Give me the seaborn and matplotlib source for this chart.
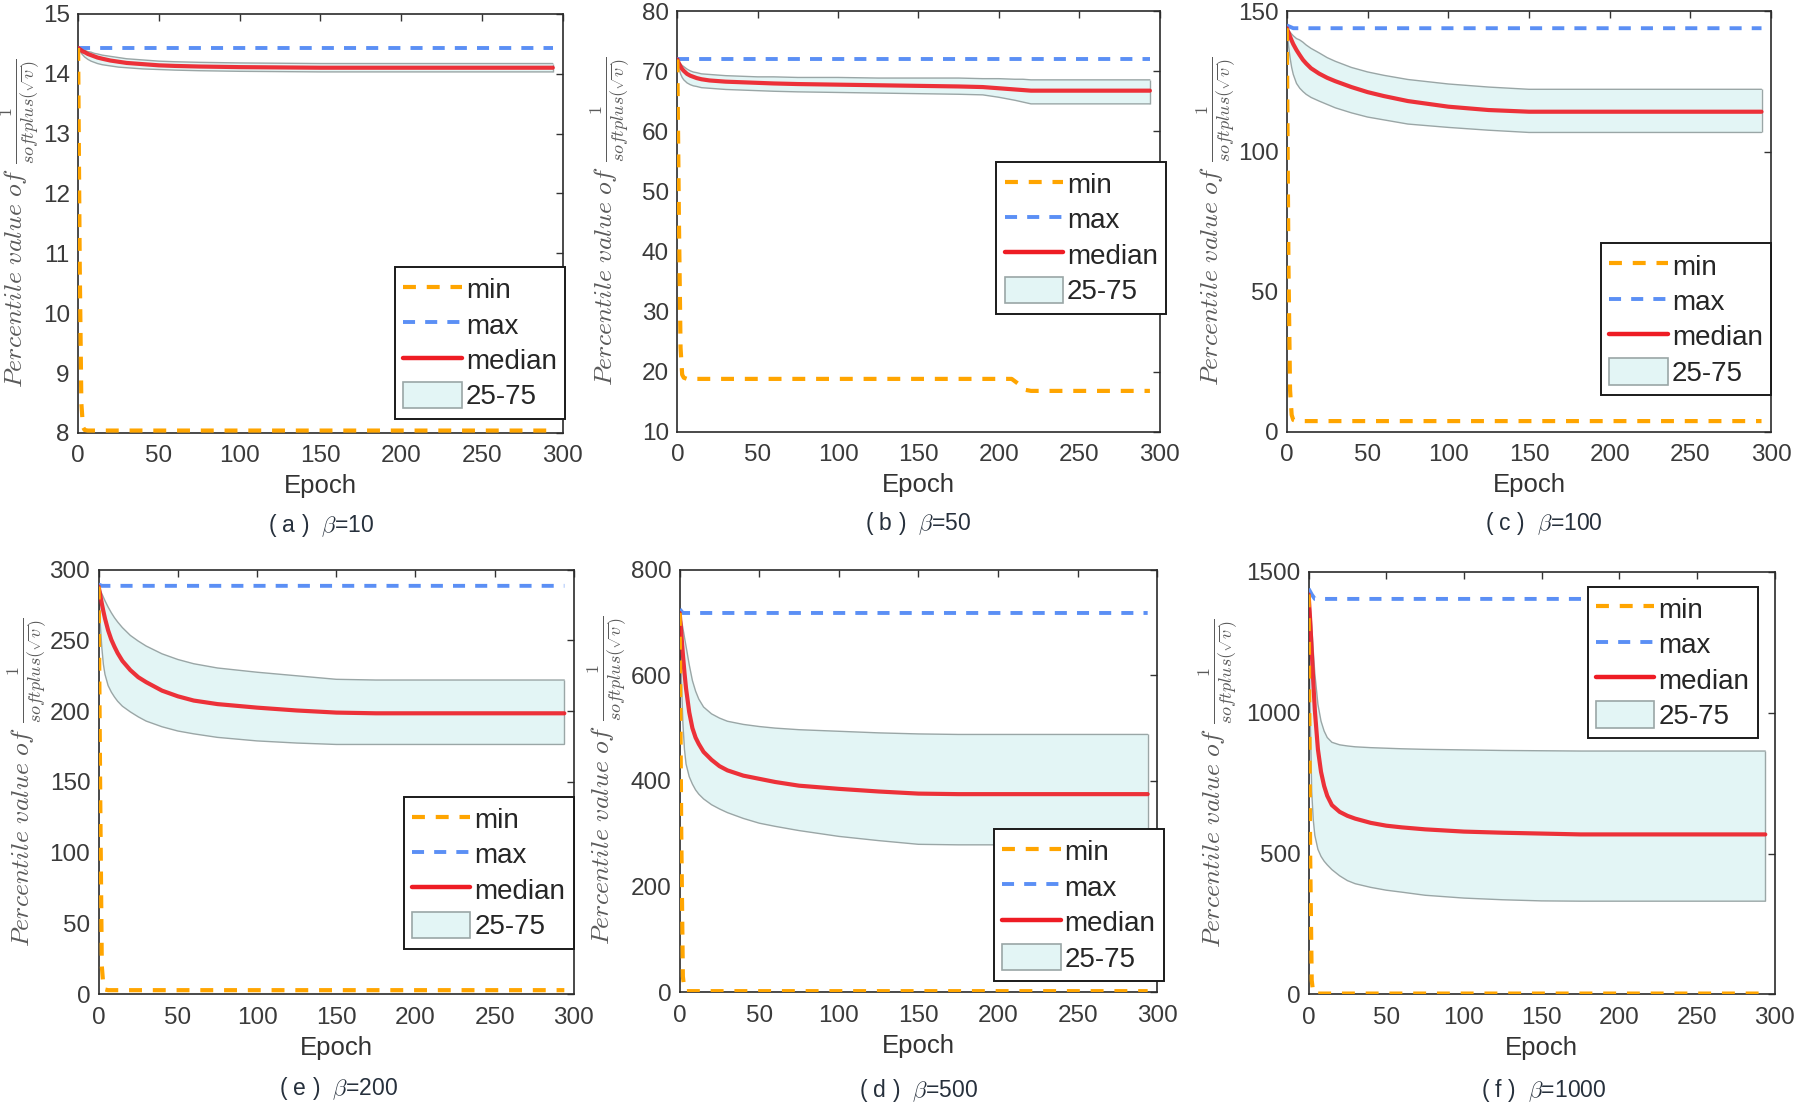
import numpy as np
import pandas as pd
import matplotlib
matplotlib.use('Agg')
import matplotlib.pyplot as plt
from matplotlib.lines import Line2D
from matplotlib.patches import Patch
import seaborn as sns

#%% data
epochs = [0, 1, 2, 3, 4, 6, 8, 10, 12, 15, 20, 25, 30, 40, 50, 60, 75, 100,
          125, 150, 175, 190, 200, 210, 215, 220, 250, 294]
min_ep = [0, 1, 2, 3, 4, 6, 208, 212, 216, 220, 294]
max_ep = [0, 2, 4, 294]

# (a) beta=10
a_med = [14.43, 14.41, 14.39, 14.37, 14.36, 14.33, 14.31, 14.29, 14.27, 14.25, 14.22, 14.20, 14.18, 14.16,
         14.14, 14.13, 14.12, 14.11, 14.105, 14.10, 14.10, 14.10, 14.10, 14.10, 14.10, 14.10, 14.10, 14.10]
a_hi = [14.43, 14.42, 14.41, 14.40, 14.39, 14.37, 14.36, 14.34, 14.33, 14.31, 14.29, 14.27, 14.25, 14.23,
        14.21, 14.20, 14.19, 14.18, 14.175, 14.17, 14.17, 14.17, 14.17, 14.17, 14.17, 14.17, 14.17, 14.17]
a_lo = [14.43, 14.38, 14.34, 14.31, 14.28, 14.24, 14.21, 14.19, 14.17, 14.15, 14.13, 14.11, 14.10, 14.08,
        14.07, 14.06, 14.05, 14.04, 14.035, 14.03, 14.03, 14.03, 14.03, 14.03, 14.03, 14.03, 14.03, 14.03]
a_min = [14.43, 10.8, 8.5, 8.1, 8.05, 8.04, 8.04, 8.04, 8.04, 8.04, 8.04]
a_max = [14.43, 14.43, 14.43, 14.43]

# (b) beta=50
b_med = [72.0, 71.3, 70.8, 70.4, 70.1, 69.6, 69.3, 69.1, 68.9, 68.7, 68.5, 68.4, 68.3, 68.2,
         68.1, 68.0, 67.9, 67.8, 67.7, 67.6, 67.5, 67.4, 67.2, 67.0, 66.9, 66.8, 66.8, 66.8]
b_hi = [72.0, 71.6, 71.3, 71.0, 70.8, 70.4, 70.1, 69.9, 69.8, 69.6, 69.5, 69.4, 69.3, 69.2,
        69.1, 69.1, 69.0, 69.0, 68.9, 68.9, 68.9, 68.8, 68.8, 68.7, 68.7, 68.6, 68.6, 68.6]
b_lo = [72.0, 70.5, 69.6, 69.0, 68.6, 68.1, 67.8, 67.6, 67.5, 67.3, 67.2, 67.1, 67.0, 66.9,
        66.8, 66.7, 66.6, 66.5, 66.4, 66.3, 66.2, 66.1, 65.7, 65.2, 64.9, 64.6, 64.6, 64.6]
b_min = [72.0, 45.0, 24.0, 19.5, 19.0, 18.8, 18.8, 18.0, 17.0, 16.8, 16.8]
b_max = [72.0, 72.0, 72.0, 72.0]

# (c) beta=100
c_med = [144, 142.5, 141, 139.6, 138.3, 136.2, 134.4, 132.7, 131.4, 129.7, 127.8, 126.3, 125.1, 123.0,
         121.2, 119.8, 118.0, 116.0, 114.8, 114.2, 114.2, 114.2, 114.2, 114.2, 114.2, 114.2, 114.2, 114.2]
c_hi = [144, 143.3, 142.6, 141.9, 141.3, 140.3, 139.8, 139.0, 138.0, 136.8, 135.2, 133.5, 132.2, 130.0,
        128.4, 127.2, 125.7, 124.1, 123.0, 122.2, 122.2, 122.2, 122.2, 122.2, 122.2, 122.2, 122.2, 122.2]
c_lo = [144, 138, 133.5, 130, 127.5, 124.3, 122.6, 121.4, 120.4, 119.3, 118.0, 116.8, 115.6, 113.8,
        112.3, 111.3, 109.8, 108.6, 107.6, 106.8, 106.8, 106.8, 106.8, 106.8, 106.8, 106.8, 106.8, 106.8]
c_min = [144, 60, 15, 6, 4.2, 3.8, 3.8, 3.8, 3.8, 3.8, 3.8]
c_max = [145, 144.5, 144, 144]

# (e) beta=200
e_med = [288, 282, 276, 270.5, 265.5, 257, 250.5, 245.5, 241, 235.5, 229, 224, 220.5, 214.5,
         210.5, 207.5, 205, 202.5, 200.5, 199, 198.5, 198.5, 198.5, 198.5, 198.5, 198.5, 198.5, 198.5]
e_hi = [288, 285.5, 283, 280.5, 278, 273.5, 269.5, 266, 263, 259, 253.5, 249.5, 246, 240.5,
        236.5, 233.5, 230.5, 227.5, 225, 222.5, 222, 222, 222, 222, 222, 222, 222, 222]
e_lo = [288, 262, 245, 233, 226, 218, 213.5, 210, 207, 203.5, 199.5, 196, 193, 189,
        186, 184, 181.5, 179, 177.5, 176.5, 176.5, 176.5, 176.5, 176.5, 176.5, 176.5, 176.5, 176.5]
e_min = [288, 140, 20, 6, 3.5, 3, 3, 3, 3, 3, 3]
e_max = [289.5, 288.5, 288.5, 288.5]

# (d) beta=500
d_med = [718, 680, 640, 605, 575, 530, 500, 482, 470, 455, 440, 428, 420, 410,
         404, 398, 391, 385, 380, 376, 375, 375, 375, 375, 375, 375, 375, 375]
d_hi = [718, 705, 690, 672, 655, 620, 590, 570, 555, 540, 527, 519, 513, 507,
        503, 500, 497, 494, 491, 489, 488, 488, 488, 488, 488, 488, 488, 488]
d_lo = [718, 600, 510, 460, 432, 408, 394, 383, 375, 366, 355, 347, 340, 329,
        320, 314, 306, 295, 287, 280, 279, 279, 279, 279, 279, 279, 279, 279]
d_min = [718, 300, 30, 4, 2, 2, 2, 2, 2, 2, 2]
d_max = [725, 718, 718, 718]

# (f) beta=1000
f_med = [1420, 1330, 1220, 1110, 1010, 870, 790, 740, 705, 672, 648, 634, 624, 609,
         599, 593, 586, 578, 574, 571, 568, 568, 568, 568, 568, 568, 568, 568]
f_hi = [1420, 1380, 1310, 1220, 1140, 1030, 970, 935, 912, 895, 886, 882, 879, 876,
        874, 872, 870, 868, 866, 865, 864, 864, 864, 864, 864, 864, 864, 864]
f_lo = [1420, 1000, 720, 620, 565, 515, 490, 473, 460, 443, 421, 404, 393, 380,
        370, 363, 352, 342, 336, 332, 331, 331, 331, 331, 331, 331, 331, 331]
f_min = [1420, 500, 50, 5, 3, 3, 3, 3, 3, 3, 3]
f_max = [1440, 1420, 1404, 1404]

captions = ['( a )', '( b )', '( c )', '( e )', '( d )', '( f )']
betas = ['10', '50', '100', '200', '500', '1000']
ylims = [(8, 15), (10, 80), (0, 150), (0, 300), (0, 800), (0, 1500)]
yticks = [np.arange(8, 16, 1), np.arange(10, 90, 10), [0, 50, 100, 150],
          np.arange(0, 350, 50), np.arange(0, 1000, 200), [0, 500, 1000, 1500]]

#%% style
sns.set_theme(style='white')
plt.rcParams['font.family'] = ['Liberation Sans', 'DejaVu Sans']
plt.rcParams['mathtext.fontset'] = 'cm'

c_min_col = '#ffa500'
c_max_col = '#5b8ff5'
c_med_col = '#ee1c24'
c_fill = '#e3f5f5'
c_edge = '#9aa6a6'
dash = (3.1, 2.6)

fig = plt.figure(figsize=(18, 11.07), dpi=100)

# axes boxes (left, bottom, width, height) in figure fraction
boxes = [(0.0434, 0.6089, 0.2691, 0.3786), (0.3763, 0.6100, 0.2679, 0.3797),
         (0.7149, 0.6100, 0.2691, 0.3797), (0.0548, 0.1017, 0.2640, 0.3838),
         (0.3776, 0.1037, 0.2653, 0.3817), (0.7270, 0.1017, 0.2589, 0.3817)]
leg_anchor = [(1.005, 0.396), (1.014, 0.642), (1.0, 0.448),
              (1.0, 0.465), (1.014, 0.386), (0.964, 0.965)]
ylab_x = [-0.074, -0.094, -0.101, -0.104, -0.106, -0.148]
cap_pos = [(280, 458), (800, 456), (1345, 456), (295, 948), (800, 950), (1345, 950)]

panels = [(a_med, a_hi, a_lo, a_min, a_max), (b_med, b_hi, b_lo, b_min, b_max),
          (c_med, c_hi, c_lo, c_min, c_max), (e_med, e_hi, e_lo, e_min, e_max),
          (d_med, d_hi, d_lo, d_min, d_max), (f_med, f_hi, f_lo, f_min, f_max)]

ylabel = r'$Percentile\ value\ of\ \frac{1}{softplus(\sqrt{v})}$'

for i, (med, hi, lo, mn, mx) in enumerate(panels):
    ax = fig.add_axes(boxes[i])
    ax.fill_between(epochs, lo, hi, facecolor=c_fill, edgecolor='none', zorder=1)
    sns.lineplot(x=epochs, y=hi, ax=ax, color=c_edge, linewidth=1.0, zorder=2)
    sns.lineplot(x=epochs, y=lo, ax=ax, color=c_edge, linewidth=1.0, zorder=2)
    ax.vlines(epochs[-1], lo[-1], hi[-1], color=c_edge, linewidth=1.0, zorder=2)
    sns.lineplot(x=max_ep, y=mx, ax=ax, color=c_max_col, linewidth=2.8, zorder=3)
    ax.lines[-1].set_dashes(dash)
    sns.lineplot(x=epochs, y=med, ax=ax, color=c_med_col, linewidth=3.0, alpha=0.9, zorder=4)
    sns.lineplot(x=min_ep, y=mn, ax=ax, color=c_min_col, linewidth=3.0, zorder=5)
    ax.lines[-1].set_dashes(dash)

    ax.set_xlim(0, 300)
    ax.set_xticks(np.arange(0, 350, 50))
    ax.set_ylim(*ylims[i])
    ax.set_yticks(yticks[i])
    ax.tick_params(direction='in', top=True, right=True, length=5, width=1,
                   labelsize=17.5, labelcolor='#3a3a3a', color='#333333')
    ax.tick_params(axis='x', pad=9)
    ax.tick_params(axis='y', pad=6)
    for sp in ax.spines.values():
        sp.set_visible(True)
        sp.set_color('#2b2b2b')
        sp.set_linewidth(1.2)
    ax.set_xlabel('Epoch', fontsize=18.5, color='#333333', labelpad=5)
    ax.set_ylabel(ylabel, fontsize=18.5, color='#5a5a5a')
    ax.yaxis.set_label_coords(ylab_x[i], 0.5)

    handles = [Line2D([], [], color=c_min_col, lw=3.0, dashes=dash),
               Line2D([], [], color=c_max_col, lw=2.8, dashes=dash),
               Line2D([], [], color=c_med_col, lw=3.2),
               Patch(facecolor=c_fill, edgecolor=c_edge, linewidth=1.2)]
    leg = ax.legend(handles, ['min', 'max', 'median', '25-75'], loc='upper right',
                    bbox_to_anchor=leg_anchor[i], borderaxespad=0, fontsize=20,
                    frameon=True, fancybox=False, framealpha=1, edgecolor='#1a1a1a',
                    handlelength=2.1, handleheight=1.1, handletextpad=0.15,
                    labelspacing=0.24, borderpad=0.3)
    leg.get_frame().set_linewidth(1.4)
    leg.set_zorder(10)

    cx, cy = cap_pos[i]
    fig.text(cx / 1568, 1 - cy / 964, captions[i] + r'  $\beta$=' + betas[i],
             ha='center', va='center', fontsize=16.5, color='#26303c')

fig.savefig('out.png', dpi=100)
